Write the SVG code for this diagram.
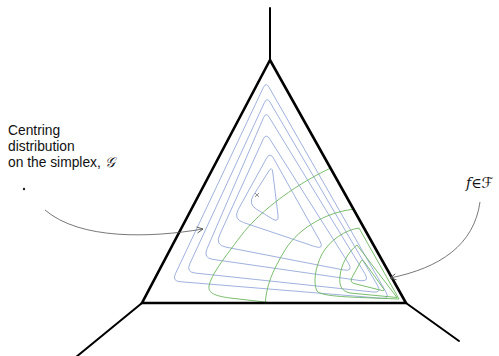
<svg xmlns="http://www.w3.org/2000/svg" width="499" height="356" viewBox="0 0 499 356">
<style>
.txt{font-family:"Liberation Sans","Open Sans",sans-serif;font-size:13.8px;fill:#111}
.math{font-family:"DejaVu Serif","DejaVu Sans",serif;font-size:14px;fill:#111}
.axis{stroke:#000;stroke-width:2;fill:none;stroke-linecap:round}
.edge{stroke:#000;stroke-width:2.6;fill:none;stroke-linejoin:miter}
.blue{stroke:#95a8da;stroke-width:0.9;fill:none}
.green{stroke:#6cb55e;stroke-width:0.9;fill:none}
.conn{stroke:#555;stroke-width:0.8;fill:none}
</style>
<defs>
<clipPath id="tri"><path d="M270,60 L142,303 L406,303 Z"/></clipPath>
<marker id="arr" viewBox="0 0 8 8" refX="7" refY="4" markerWidth="8" markerHeight="8" markerUnits="userSpaceOnUse" orient="auto">
<path d="M1,1 L7,4 L1,7" fill="none" stroke="#555" stroke-width="0.9"/>
</marker>
</defs>
<rect width="499" height="356" fill="#fff"/>

<g id="simplex">
<g clip-path="url(#tri)">
<g id="centring-contours">
<path class="blue" d="M263.4,87.4 L175.4,273.8 Q172,281 180,281.7 L382,298.3 Q390,299 386,292.1 L269,87.2 Q266,82 263.4,87.4Z"/>
<path class="blue" d="M264.5,102.4 L189.8,263.8 Q186,272 194.9,273 L373.1,292 Q382,293 377.4,285.2 L270,102.2 Q267,97 264.5,102.4Z"/>
<path class="blue" d="M263.6,117.5 L207,248.8 Q203,258 212.9,259.4 L360.1,280.6 Q370,282 364.8,273.5 L269.1,117.1 Q266,112 263.6,117.5Z"/>
<path class="blue" d="M263.1,139.4 L219.6,235 Q215,245 225.8,247.1 L343.2,269.9 Q354,272 348.1,262.7 L269.7,138.9 Q266,133 263.1,139.4Z"/>
<path class="blue" d="M266.6,158.1 L238.3,209.4 Q233,219 243.4,222.5 L314.6,246.5 Q325,250 319.6,240.4 L273.4,158.1 Q270,152 266.6,158.1Z"/>
<path class="blue" d="M268.8,171.1 L253.3,195.5 Q248,204 256.5,209.2 L272.2,218.8 Q279,223 278,215.1 L272.7,172 Q272,166 268.8,171.1Z"/>
</g>
<g id="f-contours">
<path class="green" d="M333,167 C300,182 262,208 240,237 C225,257 211,275 209,286 C208,293 215,296 230,298 L300,306"/>
<path class="green" d="M356,209 C330,211 300,226 285,250 C273,270 266,285 265,306"/>
<path class="green" d="M359,228 C345,230 330,240 322,254 C315,268 313,283 317,291 C322,297 350,297 399,299 L359,228Z"/>
<path class="green" d="M357,245 C348,252 341,265 340,276 C339,285 341,291 350,293 L397,297.5 L357,245Z"/>
<path class="green" d="M360.5,262 L352,277.5 Q349,283 356,284 L380,290 Q386,292 383,288 L364,261.5 Q362,258.5 360.5,262Z"/>
</g>
</g>
<path class="axis" d="M270,8 L270,60"/>
<path class="axis" d="M142,303 L70,362"/>
<path class="axis" d="M406,303 L459,341"/>
<path class="edge" d="M270,60 L142,303 L406,303 Z"/>
<path d="M255,193 L259,197 M259,193 L255,197" stroke="#777" stroke-width="0.8"/>
</g>

<g id="centring-label">
<text class="txt" x="8" y="135">Centring</text>
<text class="txt" x="8" y="151">distribution</text>
<text class="txt" x="8" y="167">on the simplex, <tspan class="math" font-size="16" font-style="italic">𝒢</tspan></text>
<circle cx="24" cy="189" r="1.2" fill="#222"/>
</g>

<g id="f-label">
<text class="math" x="466" y="188"><tspan font-style="italic">f</tspan>∈<tspan font-size="15">ℱ</tspan></text>
</g>

<g id="connectors">
<path class="conn" d="M45,210 C80,240 150,238 203,229" marker-end="url(#arr)"/>
<path class="conn" d="M480,202 C474,245 440,268 390,278" marker-end="url(#arr)"/>
</g>
</svg>
